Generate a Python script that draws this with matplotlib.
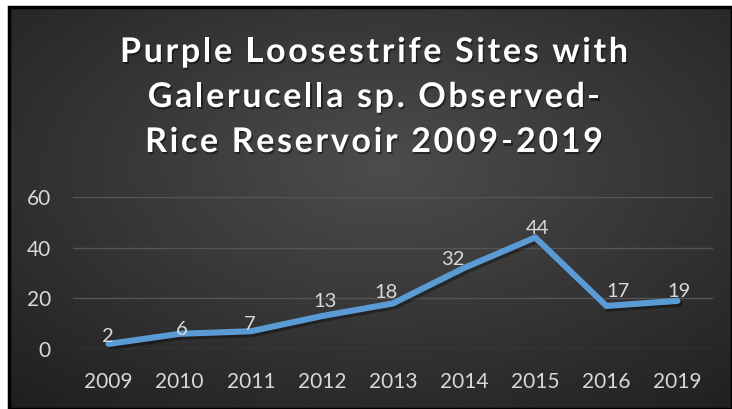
import numpy as np
import matplotlib.pyplot as plt
import matplotlib.patheffects as pe
from matplotlib.patches import Rectangle
from matplotlib.font_manager import FontProperties, findfont
from matplotlib.ft2font import FT2Font

years = ['2009', '2010', '2011', '2012', '2013', '2014', '2015', '2016', '2019']
sites = [2, 6, 7, 13, 18, 32, 44, 17, 19]
y_ticks = [0, 20, 40, 60]
title_lines = ['Purple Loosestrife Sites with',
               'Galerucella sp. Observed-',
               'Rice Reservoir 2009-2019']

# label nudges in pixels (Excel auto placement)
label_dx = [-1, 2, -1, 3, -7, -11, 2, 12, 2]
label_dy = [2, -1, 1, 9, 5, 3, 4, 9, 4]

W, H = 732, 409
DPI = 100
fig = plt.figure(figsize=(W / DPI, H / DPI), dpi=DPI, facecolor='white')

# chart area with radial gradient background
x0 = 9 / W
bg = fig.add_axes([x0, 0.0, 1 - x0, 1 - 7 / H])
bg.set_axis_off()
gx, gy = np.meshgrid(np.linspace(0, 1, 400), np.linspace(0, 1, 240))
r = np.sqrt(((gx - 0.52) / 0.75) ** 2 + ((gy - 0.4) / 0.75) ** 2)
shade = np.clip(0.30 - 0.17 * r, 0.12, 0.30)
bg.imshow(np.dstack([shade] * 3), aspect='auto', extent=[0, 1, 0, 1], origin='upper')
bg.add_patch(Rectangle((0, 0), 1, 1, transform=bg.transAxes, fill=False,
                       edgecolor='black', linewidth=2.5, clip_on=False))
bg.set_xlim(0, 1)
bg.set_ylim(0, 1)

# title with letter spacing, drawn char by char
title_pt = 24.5
prop = FontProperties(family='Lato', weight='bold', size=title_pt)
ft = FT2Font(findfont(prop))
ft.set_size(title_pt, DPI)


def advances(s):
    return [ft.load_char(ord(c)).linearHoriAdvance / 65536 for c in s]


first = advances(title_lines[0])
spacing = (508 - sum(first)) / (len(title_lines[0]) - 1)
center_x = 374
baselines = [62, 107, 152]
shadow = [pe.withSimplePatchShadow(offset=(1, -1.5), shadow_rgbFace='black', alpha=0.45)]
for line, base in zip(title_lines, baselines):
    adv = advances(line)
    total = sum(adv) + spacing * (len(line) - 1)
    xpos = center_x - total / 2
    for c, a in zip(line, adv):
        if c != ' ':
            fig.text(xpos / W, 1 - base / H, c, ha='left', va='baseline',
                     color='white', fontproperties=prop, path_effects=shadow)
        xpos += a + spacing

ax = fig.add_axes([73 / W, 1 - 349 / H, 640 / W, (349 - 197) / H])
ax.patch.set_alpha(0)
x = np.arange(len(years))
ax.plot(x, sites, color='#5B9BD5', linewidth=4.4, solid_capstyle='round',
        solid_joinstyle='miter', zorder=3,
        path_effects=[pe.SimpleLineShadow(offset=(1.5, -2), alpha=0.35), pe.Normal()])
for xi, v, dx, dy in zip(x, sites, label_dx, label_dy):
    ax.annotate(str(v), (xi, v), xytext=(dx, dy), textcoords='offset pixels',
                ha='center', va='baseline', color='#d9d9d9', fontsize=14.5, family='Lato')

ax.set_xlim(-0.5, len(years) - 0.5)
ax.set_ylim(0, 60)
ax.set_yticks(y_ticks)
ax.set_xticks(x)
ax.set_xticklabels(years)
ax.tick_params(colors='#d9d9d9', labelsize=15, length=0)
ax.tick_params(axis='x', pad=16.5)
ax.tick_params(axis='y', pad=16)
for lbl in ax.get_xticklabels() + ax.get_yticklabels():
    lbl.set_family('Lato')
ax.grid(axis='y', color='#555555', linewidth=1)
ax.set_axisbelow(True)
for s in ax.spines.values():
    s.set_visible(False)

fig.savefig('out.png', dpi=DPI)
